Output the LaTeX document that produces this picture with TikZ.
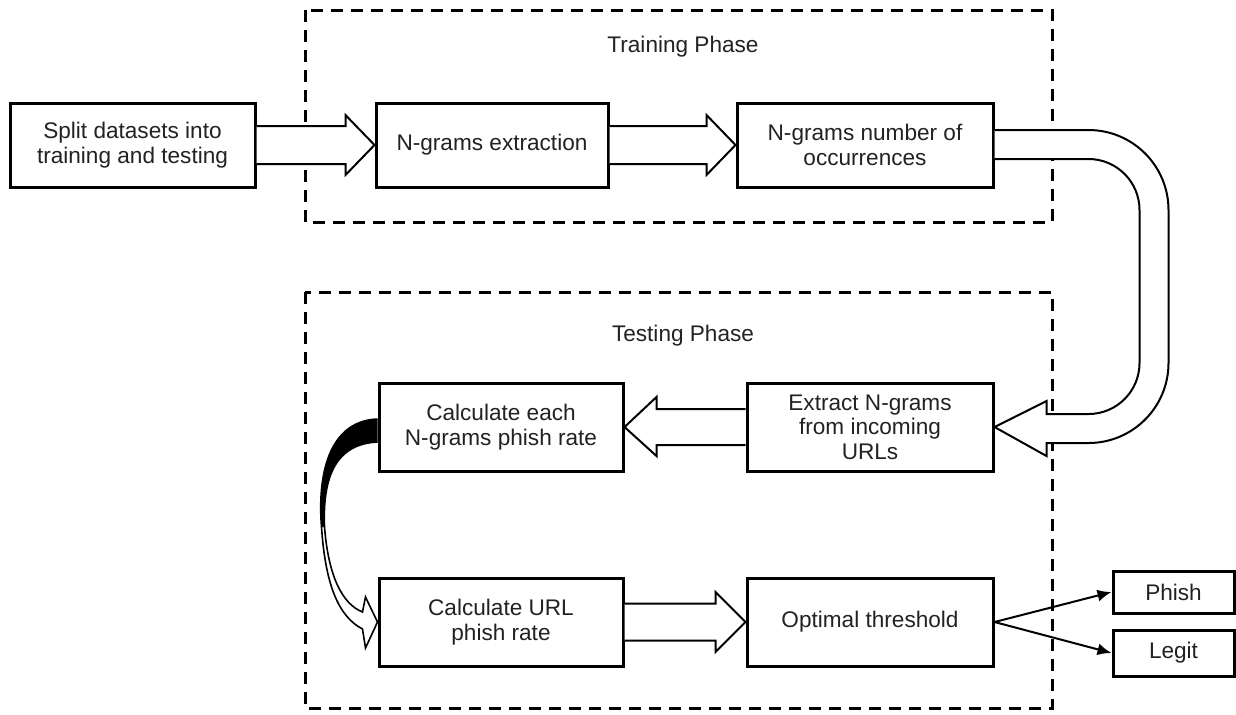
\documentclass[tikz,border=0pt]{standalone}
\usepackage{fontspec}
\setmainfont{Liberation Sans}
\usetikzlibrary{calc,arrows.meta}
\definecolor{txt}{HTML}{222222}
\tikzset{
  box/.style={draw=black, line width=1.5pt, fill=white, text=txt, align=center,
    font=\fontsize{11.3pt}{12.2pt}\selectfont, inner sep=0pt},
  phase/.style={draw=black, line width=1.5pt, dash pattern=on 6pt off 4pt},
  harrow/.style={draw=black, line width=1pt, fill=white, line join=miter},
  lbl/.style={text=txt, font=\fontsize{11.3pt}{12.2pt}\selectfont, inner sep=0pt},
  thin/.style={draw=black, line width=1pt}
}
\begin{document}
\begin{tikzpicture}[x=0.5pt,y=-0.5pt]
\useasboundingbox (0,0) rectangle (1236,714);
% phase frames
\draw[phase] (305,10) rectangle (1052,222);
\draw[phase] (305,292) rectangle (1052,708);
\node[lbl] (tr) at (683,47) {Training Phase};
\node[lbl] (te) at (683,336) {Testing Phase};
% boxes
\node[box, minimum width=122.5pt, minimum height=42pt] (split) at (132.5,145) {Split datasets into\\training and testing};
\node[box, minimum width=116pt, minimum height=42pt] (ngx) at (492,145) {N-grams extraction};
\node[box, minimum width=128pt, minimum height=42pt] (occ) at (865,145) {N-grams number of\\occurrences};
\node[box, minimum width=122pt, minimum height=44pt] (ce) at (501,427) {Calculate each\\N-grams phish rate};
\node[box, minimum width=123pt, minimum height=44pt] (ext) at (870,427) {Extract N-grams\\from incoming\\URLs};
\node[box, minimum width=122pt, minimum height=44pt] (cu) at (501,622) {Calculate URL\\phish rate};
\node[box, minimum width=123pt, minimum height=44pt] (opt) at (870,622) {Optimal threshold};
\node[box, minimum width=60.5pt, minimum height=21pt] (phish) at (1173.5,592) {Phish};
\node[box, minimum width=60.5pt, minimum height=23pt] (legit) at (1173.5,653) {Legit};
% hollow arrows (right-pointing)
\draw[harrow] ($(split.east)+(0,-19)$) -- ($(ngx.west)+(-29,-19)$) -- ($(ngx.west)+(-29,-30)$) -- (ngx.west)
  -- ($(ngx.west)+(-29,30)$) -- ($(ngx.west)+(-29,19)$) -- ($(split.east)+(0,19)$);
\draw[harrow] ($(ngx.east)+(0,-19)$) -- ($(occ.west)+(-29,-19)$) -- ($(occ.west)+(-29,-30)$) -- (occ.west)
  -- ($(occ.west)+(-29,30)$) -- ($(occ.west)+(-29,19)$) -- ($(ngx.east)+(0,19)$);
\draw[harrow] ($(cu.east)+(0,-18.5)$) -- ($(opt.west)+(-30,-18.5)$) -- ($(opt.west)+(-30,-30)$) -- (opt.west)
  -- ($(opt.west)+(-30,30)$) -- ($(opt.west)+(-30,18.5)$) -- ($(cu.east)+(0,18.5)$);
% left-pointing
\draw[harrow] ($(ext.west)+(0,-18)$) -- ($(ce.east)+(32,-18)$) -- ($(ce.east)+(32,-30)$) -- (ce.east)
  -- ($(ce.east)+(32,29)$) -- ($(ce.east)+(32,18)$) -- ($(ext.west)+(0,18)$);
% U-turn arrow
\draw[harrow] ($(occ.east)+(0,-15)$) -- ($(occ.east)+(94,-15)$) arc[start angle=-90, end angle=0, radius=80]
  -- ($(ext.east)+(174,-64)$) arc[start angle=0, end angle=90, radius=80]
  -- ($(ext.east)+(52,16)$) -- ($(ext.east)+(52,29)$) -- (ext.east) -- ($(ext.east)+(52,-26)$)
  -- ($(ext.east)+(52,-13)$) -- ($(ext.east)+(94,-13)$) arc[start angle=90, end angle=0, radius=51]
  -- ($(occ.east)+(145,65)$) arc[start angle=0, end angle=-90, radius=51]
  -- ($(occ.east)+(0,14)$);
% curved tapering arrow
\filldraw[draw=black, line width=0.8pt, fill=white]
  ($(ce.west)+(0,-8)$) .. controls ($(ce.west)+(-50,-6)$) and ($(ce.west)+(-60,50)$) .. ($(ce.west)+(-56,100)$)
  .. controls ($(ce.west)+(-52,160)$) and ($(cu.west)+(-38,-5)$) .. ($(cu.west)+(-15,7)$)
  -- ($(cu.west)+(-12,26)$) -- (cu.west) -- ($(cu.west)+(-12,-25)$) -- ($(cu.west)+(-15,-10)$)
  .. controls ($(cu.west)+(-35,-18)$) and ($(ce.west)+(-49,150)$) .. ($(ce.west)+(-53,100)$)
  .. controls ($(ce.west)+(-55,50)$) and ($(ce.west)+(-42,17)$) .. ($(ce.west)+(0,15)$);
\fill[black]
  ($(ce.west)+(0,-8)$) .. controls ($(ce.west)+(-50,-6)$) and ($(ce.west)+(-60,50)$) .. ($(ce.west)+(-56,100)$)
  -- ($(ce.west)+(-53,100)$)
  .. controls ($(ce.west)+(-55,50)$) and ($(ce.west)+(-42,17)$) .. ($(ce.west)+(0,15)$) -- cycle;
% output arrows
\draw[thin, -{Latex[length=7pt,width=6pt]}] (opt.east) -- (phish.west);
\draw[thin, -{Latex[length=7pt,width=6pt]}] (opt.east) -- (legit.west);
\end{tikzpicture}
\end{document}
